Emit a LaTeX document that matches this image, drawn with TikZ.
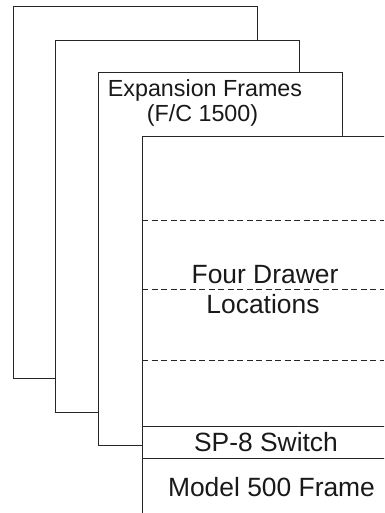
\documentclass[tikz,border=0pt]{standalone}
\usepackage{fontspec}
\setmainfont{Liberation Sans}
\begin{document}
\begin{tikzpicture}[x=1pt,y=-1pt,
  frameline/.style={draw=black!85,line width=0.9pt,fill=white},
  drawerline/.style={draw=black!85,line width=0.8pt,dash pattern=on 6pt off 3.5pt},
  bigtext/.style={anchor=base,inner sep=0pt,font=\fontsize{26.4}{30}\selectfont,text=black!90},
  smalltext/.style={anchor=base,inner sep=0pt,font=\fontsize{23.3}{27}\selectfont,text=black!90}]
  \useasboundingbox (0,0) rectangle (384,513);
  \clip (0,0) rectangle (384,513);
  % stacked expansion frames, back to front
  \path[frameline] (13,6) rectangle (257,378);
  \path[frameline] (55,40) rectangle (299,412);
  \path[frameline] (98,72) rectangle (342,445);
  % model 500 frame (runs off the right and bottom)
  \fill[white] (142,136) rectangle (390,520);
  \draw[frameline] (142,520) -- (142,136) -- (390,136);
  % drawer separators
  \draw[drawerline] (142,220) -- (384,220);
  \draw[drawerline] (142,289) -- (384,289);
  \draw[drawerline] (142,360) -- (384,360);
  % switch and frame separators
  \draw[frameline] (142,426) -- (390,426);
  \draw[frameline] (142,458) -- (390,458);
  % labels
  \node[smalltext] (exp) at (205,97) {Expansion Frames};
  \node[smalltext] (fc) at (202.5,122) {(F/C 1500)};
  \node[bigtext] (four) at (265,283) {Four Drawer};
  \node[bigtext] (loc) at (263,313) {Locations};
  \node[bigtext] (sw) at (266,451) {SP-8 Switch};
  \node[bigtext] (model) at (271.5,496) {Model 500 Frame};
\end{tikzpicture}
\end{document}
